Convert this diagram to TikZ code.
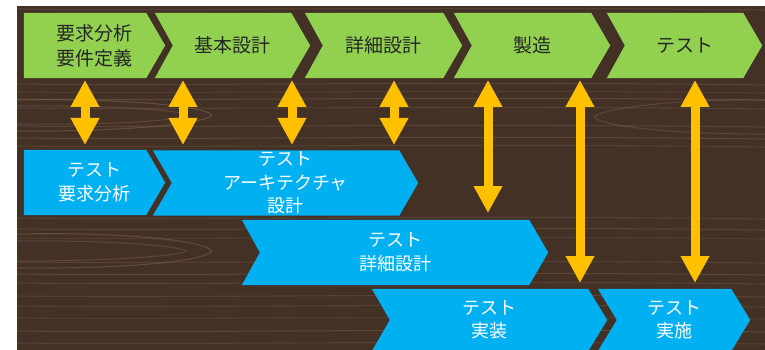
\documentclass[tikz,border=0pt]{standalone}
\usepackage{fontspec}
\newfontfamily\jp{Noto Sans CJK JP}
\usetikzlibrary{arrows.meta,backgrounds}
\definecolor{chgreen}{HTML}{92D050}
\definecolor{chblue}{HTML}{00B0F0}
\definecolor{arrorange}{HTML}{FFC000}
\definecolor{wood}{HTML}{433126}
\definecolor{grainc}{HTML}{806752}
\newcommand\chevfill[3]{%
  \fill[#3] (#1.north west) -- ([xshift=-19pt]#1.north east) -- (#1.east)
    -- ([xshift=-19pt]#1.south east) -- (#1.south west) -- ([xshift=#2]#1.west) -- cycle;}
\begin{document}
\begin{tikzpicture}[x=1pt,y=-1pt,
  gbox/.style={minimum height=65pt, inner sep=0pt, align=center,
    font=\jp\fontsize{19}{25}\selectfont, text=black!85},
  bbox/.style={minimum height=65pt, inner sep=0pt, align=center,
    font=\jp\fontsize{18}{23.5}\selectfont, text=white},
  dbl/.style={draw=arrorange, line width=9pt, >={Triangle[width=27pt,length=27pt]}, <->},
  grain/.style={draw=grainc, line width=1.1pt, opacity=0.45}]
\useasboundingbox (0,0) rectangle (765,350);

% phase chevrons (green)
\node[gbox, minimum width=141pt] (g1) at (94.5,45.5) {要求分析\\要件定義};
\node[gbox, minimum width=155pt] (g2) at (232.5,45.5) {基本設計};
\node[gbox, minimum width=157pt] (g3) at (383.5,45.5) {詳細設計};
\node[gbox, minimum width=156pt] (g4) at (532,45.5) {製造};
\node[gbox, minimum width=155pt] (g5) at (684.5,45.5) {テスト};

% test chevrons (blue)
\node[bbox, minimum width=141pt] (b1) at (94.5,182.5) {テスト\\要求分析};
\node[bbox, minimum width=265pt] (b2) at (285.5,183) {テスト\\アーキテクチャ\\設計};
\node[bbox, minimum width=306pt] (b3) at (395,252.5) {テスト\\詳細設計};
\node[bbox, minimum width=235pt, minimum height=62pt] (b4) at (489.5,320) {テスト\\実装};
\node[bbox, minimum width=152pt, minimum height=62pt] (b5) at (674,320) {テスト\\実施};

\begin{pgfonlayer}{background}
  \fill[white] (0,0) rectangle (765,350);
  \fill[wood] (17,6) rectangle (765,350);
  \foreach \yy/\op in {9/0.3,84/0.35,92/0.25,99/0.4,108/0.3,126/0.35,138/0.4,146/0.3,
                       218/0.3,229/0.35,238/0.25,262/0.3,274/0.4,283/0.3,
                       296/0.35,306/0.3,318/0.25,331/0.4,343/0.3}{
    \draw[grain, opacity=\op] (17,\yy) .. controls (200,\yy+2) and (450,\yy-3) .. (765,\yy+1);
  }
  \draw[grain, opacity=0.5] (17,100) .. controls (120,98) and (205,106) .. (212,115)
        .. controls (205,124) and (120,132) .. (17,131);
  \draw[grain, opacity=0.4] (17,106) .. controls (110,105) and (180,110) .. (186,115)
        .. controls (180,121) and (110,125) .. (17,124);
  \draw[grain, opacity=0.5] (17,234) .. controls (130,232) and (205,241) .. (212,251)
        .. controls (205,261) and (130,269) .. (17,268);
  \draw[grain, opacity=0.4] (17,241) .. controls (110,240) and (180,246) .. (186,251)
        .. controls (180,256) and (110,261) .. (17,261);
  \draw[grain, opacity=0.4] (765,100) .. controls (660,99) and (600,110) .. (594,117)
        .. controls (600,125) and (660,134) .. (765,134);
  \chevfill{g1}{0pt}{chgreen}
  \chevfill{g2}{18pt}{chgreen}
  \chevfill{g3}{18pt}{chgreen}
  \chevfill{g4}{18pt}{chgreen}
  \chevfill{g5}{18pt}{chgreen}
  \chevfill{b1}{0pt}{chblue}
  \chevfill{b2}{19pt}{chblue}
  \chevfill{b3}{18pt}{chblue}
  \chevfill{b4}{18pt}{chblue}
  \chevfill{b5}{19pt}{chblue}
\end{pgfonlayer}

% connector end points
\coordinate (s1t) at (85,80);   \coordinate (s1b) at (85,145);
\coordinate (s2t) at (183,80);  \coordinate (s2b) at (183,145);
\coordinate (s3t) at (292,80);  \coordinate (s3b) at (292,145);
\coordinate (s4t) at (394,80);  \coordinate (s4b) at (394,145);
\coordinate (l1t) at (488,80);  \coordinate (l1b) at (488,213);
\coordinate (l2t) at (580,80);  \coordinate (l2b) at (580,283);
\coordinate (l3t) at (695,80);  \coordinate (l3b) at (695,283);

\draw[dbl] (s1t) -- (s1b);
\draw[dbl] (s2t) -- (s2b);
\draw[dbl] (s3t) -- (s3b);
\draw[dbl] (s4t) -- (s4b);
\draw[dbl] (l1t) -- (l1b);
\draw[dbl] (l2t) -- (l2b);
\draw[dbl] (l3t) -- (l3b);
\end{tikzpicture}
\end{document}
